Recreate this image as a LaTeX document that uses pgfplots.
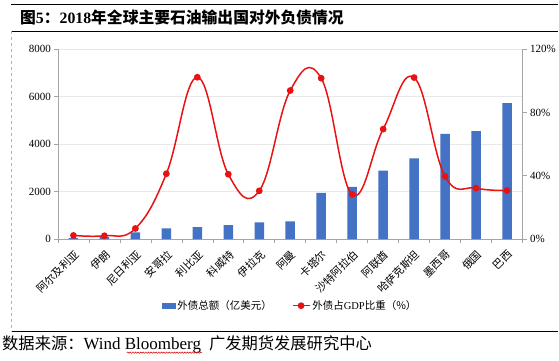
\documentclass[border=0pt]{standalone}
\usepackage{fontspec}
\setmainfont{Liberation Serif}
\newfontfamily\cjk{Noto Sans CJK SC}
\usepackage{pgfplots}
\usepackage{pgfplotstable}
\usetikzlibrary{decorations.pathmorphing}
\pgfplotsset{compat=1.18}
\definecolor{barblue}{RGB}{68,114,196}
\definecolor{linered}{RGB}{232,18,18}
\definecolor{gridgray}{RGB}{232,232,232}
\definecolor{axgray}{RGB}{165,165,165}

\pgfplotstableread{
x debt ratio
0 40 2.3
1 80 2.1
2 280 6.7
3 450 41.3
4 505 102.3
5 590 41.0
6 700 30.5
7 750 93.9
8 1950 101.7
9 2200 28.2
10 2880 69.5
11 3400 102.1
12 4435 39.6
13 4550 32.2
14 5730 30.7
}\datatable

\begin{document}
\begin{tikzpicture}
\path (0pt,0pt) rectangle (559pt,361pt);
\draw[black, line width=0.8pt] (11pt,356.3pt) -- (559pt,356.3pt);
\draw[black, line width=0.8pt] (11pt,330pt) -- (559pt,330pt);
\draw[black, line width=0.8pt] (11pt,29.3pt) -- (559pt,29.3pt);
\draw[gray!60, dashed, line width=0.4pt] (11pt,330pt) -- (11pt,29.3pt);
\node[anchor=west, inner sep=0pt] at (20pt,343.5pt) {\fontsize{15.8}{17}\selectfont\bfseries\cjk 图\rmfamily 5\cjk ：\rmfamily 2018\cjk 年全球主要石油输出国对外负债情况};
\node[anchor=west, inner sep=0pt] at (2pt,16pt) {{\cjk\fontsize{16.3}{18}\selectfont 数据来源：}{\fontsize{17}{18}\selectfont Wind Bloomberg\hspace{8pt}}{\cjk\fontsize{16.3}{18}\selectfont 广发期货发展研究中心}};
\draw[red!85!black, line width=0.5pt, decorate, decoration={snake, amplitude=0.7pt, segment length=2.6pt}] (127pt,8pt) -- (202pt,8pt);

\begin{axis}[
  at={(58pt,121.7pt)}, anchor=south west, scale only axis,
  width=465pt, height=190pt,
  xmin=-0.5, xmax=14.5, ymin=0, ymax=8000,
  ytick={0,2000,4000,6000,8000},
  ymajorgrids, grid style={gridgray, line width=0.6pt},
  axis x line*=bottom, axis y line*=left,
  axis line style={axgray, line width=0.8pt},
  xtick={0,...,14},
  xticklabels={阿尔及利亚,伊朗,尼日利亚,安哥拉,利比亚,科威特,伊拉克,阿曼,卡塔尔,沙特阿拉伯,阿联酋,哈萨克斯坦,墨西哥,俄国,巴西},
  major x tick style={draw=none},
  minor xtick={-0.5,0.5,1.5,2.5,3.5,4.5,5.5,6.5,7.5,8.5,9.5,10.5,11.5,12.5,13.5,14.5},
  minor tick length=4pt, major tick length=3.5pt,
  tick align=outside,
  tick style={axgray, line width=0.6pt},
  xticklabel shift=5pt,
  x tick label style={rotate=45, anchor=north east, font=\cjk\fontsize{10.8}{12}\selectfont, inner sep=1pt},
  y tick label style={font=\fontsize{11}{12}\selectfont},
  /pgf/number format/assume math mode=true,
  scaled y ticks=false,
  yticklabel style={/pgf/number format/1000 sep={}},
  ybar, bar width=9.5pt,
]
\addplot[fill=barblue, draw=none] table[x=x,y=debt]{\datatable};
\end{axis}

\begin{axis}[
  at={(58pt,121.7pt)}, anchor=south west, scale only axis,
  width=465pt, height=190pt,
  xmin=-0.5, xmax=14.5, ymin=0, ymax=120,
  axis x line=none, axis y line*=right,
  axis line style={axgray, line width=0.8pt},
  ytick={0,40,80,120},
  yticklabel={\pgfmathprintnumber{\tick}\%},
  tick align=outside, major tick length=4pt,
  tick style={axgray, line width=0.6pt},
  y tick label style={font=\fontsize{11}{12}\selectfont},
  /pgf/number format/assume math mode=true,
  legend columns=2,
  legend style={draw=none, at={(0.5,-0.351)}, anchor=center, font=\fontsize{10.5}{12}\selectfont,
    /tikz/every even column/.append style={column sep=18pt}},
]
\addlegendimage{legend image code/.code={\fill[barblue] (0pt,-2.5pt) rectangle (13pt,2.5pt);}}
\addlegendentry{\cjk 外债总额（亿美元）}
\addplot[linered, line width=1.5pt, smooth, tension=0.7, mark=*, mark size=2.6pt, mark options={fill=linered, draw=linered}] table[x=x,y=ratio]{\datatable};
\addlegendentry{{\cjk 外债占}GDP{\cjk 比重（\%）}}
\end{axis}
\end{tikzpicture}
\end{document}
